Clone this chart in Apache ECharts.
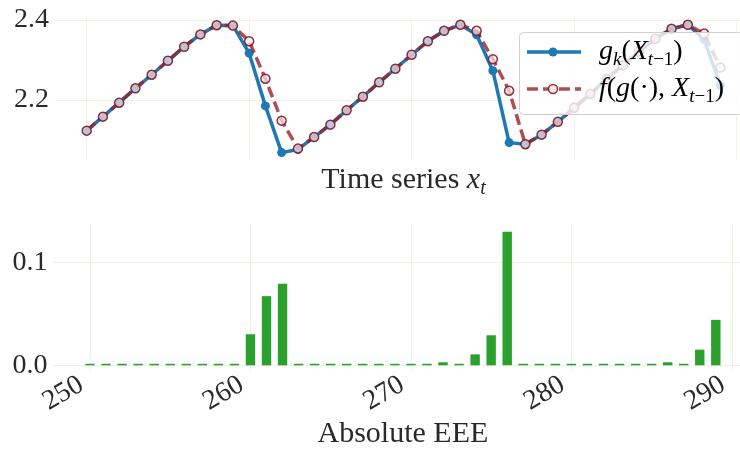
<!DOCTYPE html>
<html>
<head>
<meta charset="utf-8">
<script src="https://cdn.jsdelivr.net/npm/echarts@6/dist/echarts.min.js"></script>
<style>
  html, body { margin: 0; padding: 0; background: #ffffff; }
  #chart { width: 740px; height: 449px; }
</style>
</head>
<body>
<div id="chart"></div>
<script>
// Time steps shown on both panels
const steps = [250, 251, 252, 253, 254, 255, 256, 257, 258, 259,
               260, 261, 262, 263, 264, 265, 266, 267, 268, 269,
               270, 271, 272, 273, 274, 275, 276, 277, 278, 279,
               280, 281, 282, 283, 284, 285, 286, 287, 288, 289];

// g_k(X_{t-1})
const gk = [2.123, 2.158, 2.193, 2.229, 2.263, 2.298, 2.333, 2.364, 2.387, 2.386,
            2.317, 2.185, 2.068, 2.076, 2.107, 2.138, 2.174, 2.208, 2.244, 2.278,
            2.313, 2.347, 2.373, 2.388, 2.363, 2.273, 2.093, 2.089, 2.113, 2.145,
            2.180, 2.215, 2.252, 2.287, 2.321, 2.353, 2.378, 2.388, 2.351, 2.236];

// f(g(.), X_{t-1})
const fg = [2.123, 2.158, 2.193, 2.229, 2.263, 2.298, 2.333, 2.364, 2.387, 2.386,
            2.347, 2.253, 2.148, 2.078, 2.107, 2.138, 2.174, 2.208, 2.244, 2.278,
            2.313, 2.347, 2.373, 2.388, 2.373, 2.302, 2.223, 2.089, 2.113, 2.145,
            2.180, 2.215, 2.252, 2.287, 2.321, 2.353, 2.378, 2.388, 2.366, 2.281];

// Absolute EEE per step
const eee = [0.0015, 0.0015, 0.0015, 0.0015, 0.0015, 0.0015, 0.0015, 0.0015, 0.0015, 0.0015,
             0.0303, 0.0674, 0.0795, 0.0015, 0.0015, 0.0015, 0.0015, 0.0015, 0.0015, 0.0015,
             0.0015, 0.0015, 0.0030, 0.0015, 0.0107, 0.0293, 0.1300, 0.0015, 0.0015, 0.0015,
             0.0015, 0.0015, 0.0015, 0.0015, 0.0015, 0.0015, 0.0030, 0.0015, 0.0153, 0.0443];

const TEXT = '#2a2a2a';
const FONT = '"Liberation Serif", "DejaVu Serif", serif';
const GRID = '#f3f0e4';
const BLUE = '#1f77b4';
const RED = 'rgba(150, 35, 42, 0.8)';
const RED_EDGE = 'rgba(125, 28, 40, 0.9)';
const RED_FACE = 'rgba(250, 236, 240, 0.7)';
const GREEN = '#2ca02c';

const pairs = ys => steps.map((x, i) => [x, ys[i]]);

// rich-text styles for math-like labels
function mathRich(size, sub) {
  const lh = Math.round(size * 1.25);
  return {
    r:  { fontFamily: FONT, fontSize: size, color: TEXT, lineHeight: lh },
    i:  { fontFamily: FONT, fontSize: size, fontStyle: 'italic', color: TEXT, lineHeight: lh },
    si: { fontFamily: FONT, fontSize: sub, fontStyle: 'italic', color: TEXT, lineHeight: Math.round(sub * 1.15), verticalAlign: 'bottom' },
    sr: { fontFamily: FONT, fontSize: sub, color: TEXT, lineHeight: Math.round(sub * 1.15), verticalAlign: 'bottom' }
  };
}

const xBase = {
  type: 'value',
  splitNumber: 5,
  minInterval: 10,
  maxInterval: 10,
  axisLine: { show: false },
  axisTick: { show: false },
  splitLine: { show: true, showMinLine: false, showMaxLine: false, lineStyle: { color: GRID, width: 1 } }
};

const yBase = {
  type: 'value',
  axisLine: { show: false },
  axisTick: { show: false },
  splitLine: { show: true, showMinLine: false, showMaxLine: false, lineStyle: { color: GRID, width: 1 } },
  axisLabel: {
    margin: 6, fontSize: 28, fontFamily: FONT, color: TEXT,
    showMinLabel: false, showMaxLabel: false,
    formatter: v => v.toFixed(1)
  }
};

const chart = echarts.init(document.getElementById('chart'), null, { renderer: 'canvas' });

chart.setOption({
  animation: false,
  backgroundColor: '#ffffff',
  grid: [
    { left: 55, top: 18, width: 697, height: 141, containLabel: false, outerBoundsMode: 'none' },
    { left: 53.4, top: 225.2, width: 699, height: 146.8, containLabel: false, outerBoundsMode: 'none' }
  ],
  xAxis: [
    Object.assign({}, xBase, {
      gridIndex: 0, min: 248.05, max: 290.95,
      axisLabel: { show: false },
      name: '{r|Time series }{i|x}{si|t}',
      nameLocation: 'middle', nameGap: 2,
      nameTextStyle: { rich: mathRich(30, 20) }
    }),
    Object.assign({}, xBase, {
      gridIndex: 1, min: 247.72, max: 291.28,
      axisLabel: {
        rotate: 30, margin: 6, padding: [0, 10, 0, 0],
        fontSize: 28, fontFamily: FONT, color: TEXT,
        showMinLabel: false, showMaxLabel: false,
        formatter: v => String(Math.round(v))
      },
      name: 'Absolute EEE',
      nameLocation: 'middle', nameGap: 47,
      nameTextStyle: { fontSize: 30, fontFamily: FONT, color: TEXT }
    })
  ],
  yAxis: [
    Object.assign({}, yBase, { gridIndex: 0, min: 2.052, max: 2.405, splitNumber: 2, minInterval: 0.2, maxInterval: 0.2 }),
    Object.assign({}, yBase, { gridIndex: 1, min: -0.0065, max: 0.1365, splitNumber: 2, minInterval: 0.1, maxInterval: 0.1 })
  ],
  series: [
    {
      name: 'g', type: 'line', xAxisIndex: 0, yAxisIndex: 0, z: 2,
      data: pairs(gk),
      symbol: 'circle', symbolSize: 9, showSymbol: true,
      lineStyle: { color: BLUE, width: 3.5 },
      itemStyle: { color: BLUE }
    },
    {
      name: 'f', type: 'line', xAxisIndex: 0, yAxisIndex: 0, z: 3,
      data: pairs(fg),
      symbol: 'circle', symbolSize: 9, showSymbol: true,
      lineStyle: { color: RED, width: 3.5, type: [11, 5] },
      itemStyle: { color: RED_FACE, borderColor: RED_EDGE, borderWidth: 1.5 }
    },
    {
      name: 'eee', type: 'bar', xAxisIndex: 1, yAxisIndex: 1,
      data: pairs(eee),
      barWidth: 9.4,
      itemStyle: { color: GREEN }
    }
  ],
  graphic: [
    {
      type: 'rect', z: 100,
      shape: { x: 519.5, y: 32.5, width: 224, height: 82, r: 4 },
      style: { fill: 'rgba(255,255,255,0.8)', stroke: '#cfcfcf', lineWidth: 1 }
    },
    {
      type: 'line', z: 101,
      shape: { x1: 527, y1: 52, x2: 581, y2: 52 },
      style: { stroke: BLUE, lineWidth: 3.5 }
    },
    {
      type: 'circle', z: 102,
      shape: { cx: 553, cy: 52, r: 4.5 },
      style: { fill: BLUE }
    },
    {
      type: 'line', z: 101,
      shape: { x1: 527, y1: 89, x2: 581, y2: 89 },
      style: { stroke: RED, lineWidth: 3.5, lineDash: [11, 5] }
    },
    {
      type: 'circle', z: 102,
      shape: { cx: 553, cy: 89, r: 4.5 },
      style: { fill: '#f6e4e6', stroke: RED_EDGE, lineWidth: 1.5 }
    },
    {
      type: 'text', z: 103,
      style: {
        x: 599, y: 52, verticalAlign: 'middle',
        text: '{i|g}{si|k}{r|(}{i|X}{si|t}{sr|−1}{r|)}',
        rich: mathRich(28, 19)
      }
    },
    {
      type: 'text', z: 103,
      style: {
        x: 599, y: 89, verticalAlign: 'middle',
        text: '{i|f}{r|(}{i|g}{r|(·), }{i|X}{si|t}{sr|−1}{r|)}',
        rich: mathRich(28, 19)
      }
    }
  ]
});
</script>
</body>
</html>
